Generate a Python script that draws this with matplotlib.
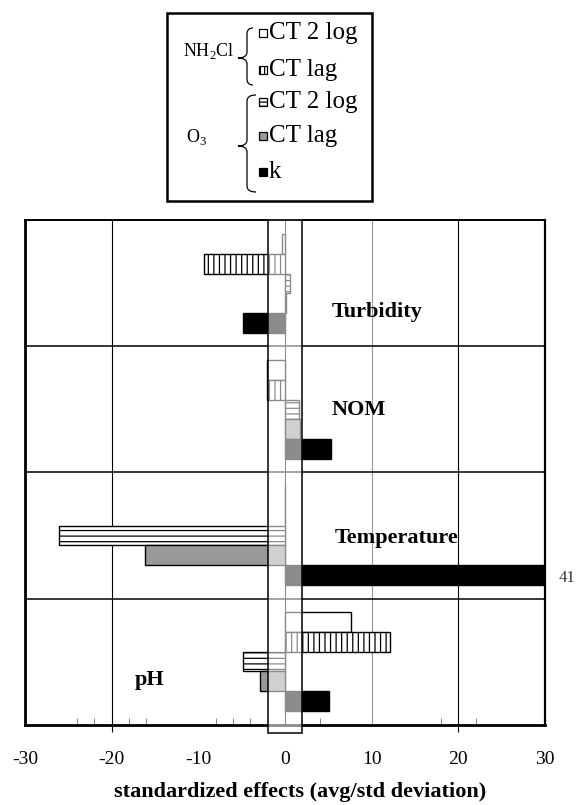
import matplotlib
matplotlib.use("Agg")
import matplotlib.pyplot as plt
import numpy as np
from matplotlib.patches import Rectangle, PathPatch
from matplotlib.path import Path
from matplotlib.transforms import Affine2D

# effects per factor, top to bottom
factors = ["Turbidity", "NOM", "Temperature", "pH"]
nh2cl_ct2log = [-0.4, -2.05, 0.0, 7.6]
nh2cl_ctlag = [-9.3, -2.05, 0.0, 12.1]
o3_ct2log = [0.6, 1.6, -26.1, -4.9]
o3_ctlag = [0.1, 1.7, -16.1, -2.9]
o3_k = [-4.8, 5.3, 41.0, 5.1]

xticks = [-30, -20, -10, 0, 10, 20, 30]
faint_ticks = [-24, -22, -18, -16, -8, -6, -4, 4, 18, 22]
signif = 2.0  # +/- band drawn over the bars

series = [
    ("CT 2 log", nh2cl_ct2log, "white", None),
    ("CT lag", nh2cl_ctlag, "white", "|||"),
    ("CT 2 log", o3_ct2log, "white", "---"),
    ("CT lag", o3_ctlag, "#999999", None),
    ("k", o3_k, "black", None),
]

plt.rcParams["font.family"] = "Liberation Serif"
plt.rcParams["mathtext.fontset"] = "custom"
plt.rcParams["mathtext.rm"] = "Liberation Serif"
plt.rcParams["axes.unicode_minus"] = False
plt.rcParams["hatch.linewidth"] = 0.9

W, H = 577, 805
fig = plt.figure(figsize=(W / 100, H / 100), dpi=100)
ax = fig.add_axes([25 / W, 1 - 724.5 / H, 520 / W, 504 / H])

bar_h = 0.157
base = np.arange(len(factors)) + 0.5
for i, (label, vals, color, hatch) in enumerate(series):
    ypos = base + (i - 2) * bar_h
    ax.barh(ypos, vals, height=bar_h, color=color, edgecolor="black",
            linewidth=1.0, hatch=hatch, zorder=2)
    for y, v in zip(ypos, vals):
        if v > xticks[-1]:
            ax.annotate(f"{v:g}", xy=(xticks[-1], y), xytext=(10, -2),
                        textcoords="offset points", ha="left", va="center",
                        fontsize=12, color="#333333", annotation_clip=False)

ax.set_xlim(xticks[0], xticks[-1])
ax.set_ylim(len(factors), 0)

# semi-transparent band around zero, sticking out below the axis
ax.add_patch(Rectangle((-signif, -0.01), 2 * signif, len(factors) + 0.08,
                       facecolor="white", edgecolor="none", alpha=0.55,
                       zorder=3, clip_on=False))
ax.add_patch(Rectangle((-signif, 0), 2 * signif, len(factors) + 0.07,
                       fill=False, edgecolor="black", linewidth=1.1,
                       zorder=4, clip_on=False))

# factor names
label_pos = [(10.6, 0.73), (8.5, 1.5), (12.9, 2.52), (-15.6, 3.65)]
for name, (x, y) in zip(factors, label_pos):
    ax.text(x, y, name, ha="center", va="center", fontsize=16,
            fontweight="bold", zorder=5)

ax.set_xticks(xticks)
ax.set_xticks(faint_ticks, minor=True)
ax.set_yticks([1, 2, 3])
ax.tick_params(axis="y", length=0, labelleft=False)
ax.tick_params(axis="x", which="major", direction="out", length=5,
               width=0.8, pad=14, labelsize=14)
ax.tick_params(axis="x", which="minor", direction="in", length=5,
               width=0.7, color="#888888")
ax.grid(axis="x", color="black", linewidth=0.8)
ax.grid(axis="y", color="black", linewidth=1.1)
ax.set_axisbelow(True)
for t, v in zip(ax.xaxis.get_major_ticks(), xticks):
    if v not in (-20, 20):
        t.tick1line.set_visible(False)
    if v == -10:
        t.gridline.set_visible(False)
    if v == 10:
        t.gridline.set_color("#999999")

for side, lw in [("left", 2.0), ("bottom", 2.0), ("right", 1.6), ("top", 1.4)]:
    ax.spines[side].set_linewidth(lw)

ax.set_xlabel("standardized effects (avg/std deviation)", fontsize=16,
              fontweight="bold", labelpad=10, x=0.53)

# hand-made legend with braces, in pixel coordinates
px = Affine2D().scale(1 / W, -1 / H).translate(0, 1) + fig.transFigure
fig.add_artist(Rectangle((167, 13), 205, 188, transform=px, fill=False,
                         edgecolor="black", linewidth=1.8))


def brace(x_end, x_mid, x_tip, y_top, y_tip, y_bot, r=6):
    verts = [(x_end, y_top), (x_mid, y_top), (x_mid, y_top + r),
             (x_mid, y_tip - r), (x_mid, y_tip), (x_tip, y_tip),
             (x_mid, y_tip), (x_mid, y_tip + r),
             (x_mid, y_bot - r), (x_mid, y_bot), (x_end, y_bot)]
    codes = [Path.MOVETO, Path.CURVE3, Path.CURVE3, Path.LINETO,
             Path.CURVE3, Path.CURVE3, Path.CURVE3, Path.CURVE3,
             Path.LINETO, Path.CURVE3, Path.CURVE3]
    fig.add_artist(PathPatch(Path(verts, codes), transform=px, fill=False,
                             edgecolor="black", linewidth=0.9))


brace(253, 247, 238, 28, 58, 85)
brace(256, 247, 238, 95, 146, 192)
fig.text(209, 51, r"NH$_\mathrm{2}$Cl", transform=px, ha="center",
         va="center", fontsize=13)
fig.text(197, 137, r"O$_\mathrm{3}$", transform=px, ha="center",
         va="center", fontsize=13)

rows = [33, 70, 102, 136, 172]
for (label, _, color, hatch), y in zip(series, rows):
    fig.add_artist(Rectangle((259, y - 4), 8, 8, transform=px,
                             facecolor=color, edgecolor="black",
                             linewidth=0.9,
                             hatch=hatch + hatch[0] if hatch else None))
    fig.text(269, y, label, transform=px, ha="left", va="center",
             fontsize=18)

fig.savefig("out.png", dpi=100)
